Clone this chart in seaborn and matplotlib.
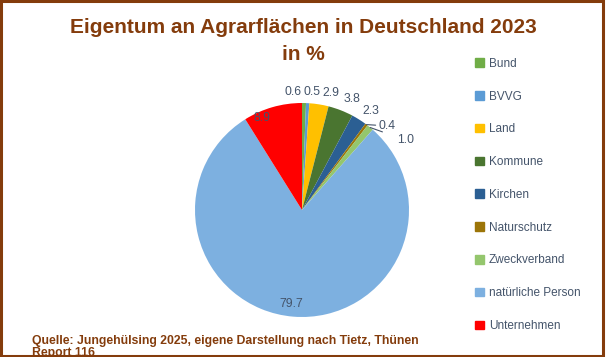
import numpy as np
import seaborn as sns
import matplotlib.pyplot as plt
from matplotlib.patches import Rectangle

# data
categories = ["Bund", "BVVG", "Land", "Kommune", "Kirchen", "Naturschutz",
              "Zweckverband", "natürliche Person", "Unternehmen"]
shares = [0.6, 0.5, 2.9, 3.8, 2.3, 0.4, 1.0, 79.7, 8.9]
labels = ["0.6", "0.5", "2.9", "3.8", "2.3", "0.4", "1.0", "79.7", "8.9"]

colors = ["#70AD47", "#5B9BD5", "#FFC000", "#4A7530", "#2B5F93",
          "#9C7508", "#94C66D", "#7DB0E0", "#FF0000"]
# label placement: radius factor and angular nudge (deg) per slice
label_r = [1.11, 1.11, 1.13, 1.14, 1.13, 1.12, 1.17, 0.88, 0.94]
label_shift = [5.5, -2.0, -4.5, -3.2, -2.8, -8.4, -16.6, -2.1, 7.3]
leader = [False, False, False, False, False, True, True, False, False]

brown = "#843C0C"
label_col = "#44546A"

sns.set_theme(style="white")
plt.rcParams["font.family"] = ["Liberation Sans", "DejaVu Sans"]

fig = plt.figure(figsize=(6.06, 3.57), dpi=100)
ax = fig.add_axes([195 / 606, 40 / 357, 214 / 606, 214 / 357])

wedges, _ = ax.pie(shares, colors=colors, startangle=90, counterclock=False,
                   wedgeprops=dict(linewidth=0))
ax.set_xlim(-1, 1)
ax.set_ylim(-1, 1)
ax.set_aspect("equal")
ax.axis("off")

for w, lab, r, sh, ld in zip(wedges, labels, label_r, label_shift, leader):
    mid = (w.theta1 + w.theta2) / 2
    ang = np.deg2rad(mid + sh)
    x, y = r * np.cos(ang), r * np.sin(ang)
    if ld:
        m = np.deg2rad(mid)
        ex, ey = np.cos(m), np.sin(m)
        ax.annotate(lab, xy=(ex, ey), xytext=(x, y), ha="center", va="center",
                    fontsize=8.8, color=label_col, annotation_clip=False,
                    arrowprops=dict(arrowstyle="-", color=label_col, lw=0.8,
                                    shrinkA=9, shrinkB=0))
    else:
        ax.text(x, y, lab, ha="center", va="center", fontsize=8.8, color=label_col)

handles = [Rectangle((0, 0), 1, 1, color=c) for c in colors]
fig.legend(handles, categories, loc="upper left", bbox_to_anchor=(470 / 606, 1 - 53 / 357),
           frameon=False, fontsize=8.5, labelcolor=label_col, handlelength=0.75,
           handleheight=0.75, handletextpad=0.45, labelspacing=1.76, borderaxespad=0)

fig.text(0.5, 1 - 41 / 357, "Eigentum an Agrarflächen in Deutschland 2023\nin %",
         ha="center", va="center", fontsize=15, fontweight="bold", color=brown,
         linespacing=1.5)

fig.text(32 / 606, 1 - 335 / 357,
         "Quelle: Jungehülsing 2025, eigene Darstellung nach Tietz, Thünen\nReport 116",
         ha="left", va="top", fontsize=8.8, fontweight="bold", color=brown,
         linespacing=1.05, transform=fig.transFigure)

fig.patches.append(Rectangle((0.0015, 0.003), 0.994, 0.993, transform=fig.transFigure,
                             fill=False, edgecolor=brown, linewidth=2.2, zorder=10))

fig.savefig("out.png", dpi=100)
